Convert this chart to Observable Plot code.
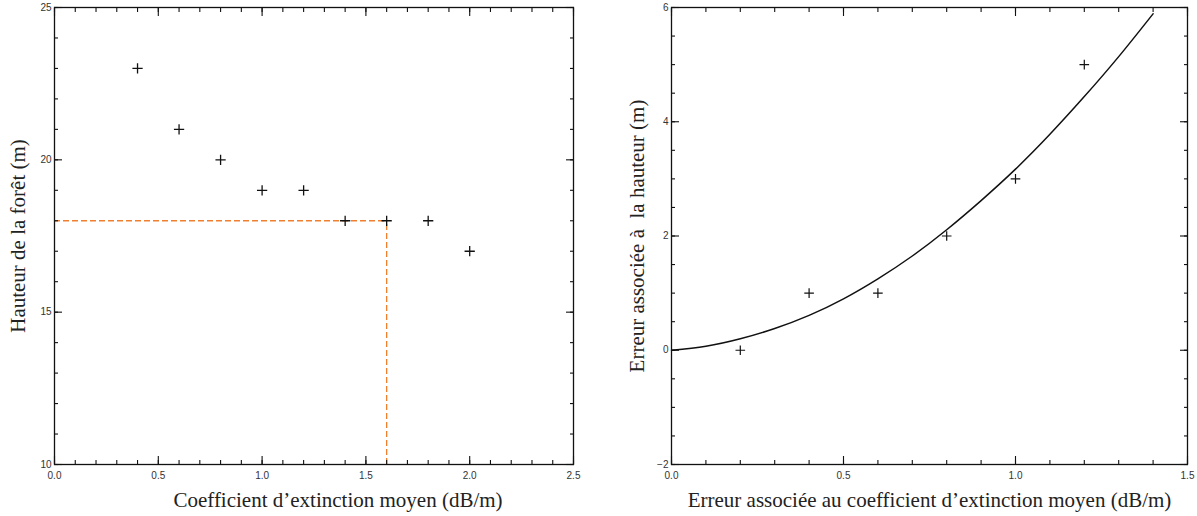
<!DOCTYPE html>
<html>
<head>
<meta charset="utf-8">
<script src="https://cdn.jsdelivr.net/npm/d3@7"></script>
<script src="https://cdn.jsdelivr.net/npm/@observablehq/plot@0.6"></script>
<style>
  html, body { margin: 0; padding: 0; background: #fff; }
  #wrap { display: flex; flex-direction: row; width: 1197px; height: 516px; }
</style>
</head>
<body>
<div id="wrap"></div>
<script>
// ---------- Left panel data ----------
const extinction = [0.4, 0.6, 0.8, 1.0, 1.2, 1.4, 1.6, 1.8, 2.0];
const forestHeight = [23, 21, 20, 19, 19, 18, 18, 18, 17];
const guideX = [1.6];
const guideY = [18];
const leftXMajor = [0, 0.5, 1.0, 1.5, 2.0, 2.5];
const leftXMinor = d3.range(0, 26).map(i => i / 10);
const leftYMajor = [10, 15, 20, 25];
const leftYMinor = d3.range(10, 26);
const leftXLabel = "Coefficient d\u2019extinction moyen (dB/m)";
const leftYLabel = "Hauteur de la for\u00eat (m)";

// ---------- Right panel data ----------
const errExt = [0.2, 0.4, 0.6, 0.8, 1.0, 1.2];
const errHeight = [0, 1, 1, 2, 3, 5];
const fitX = [0, 0.1, 0.2, 0.3, 0.4, 0.5, 0.6, 0.7, 0.8, 0.9, 1.0, 1.1, 1.2, 1.3, 1.4];
const fitY = [0, 0.07, 0.2, 0.38, 0.61, 0.9, 1.25, 1.65, 2.11, 2.62, 3.17, 3.78, 4.44, 5.14, 5.89];
const rightXMajor = [0, 0.5, 1.0, 1.5];
const rightXMinor = d3.range(0, 16).map(i => i / 10);
const rightYMajor = [-2, 0, 2, 4, 6];
const rightYMinor = d3.range(-4, 13).map(i => i / 2);
const rightXLabel = "Erreur associ\u00e9e au coefficient d\u2019extinction moyen (dB/m)";
const rightYLabel = "Erreur associ\u00e9e \u00e0  la hauteur (m)";

const INK = "#111";
const TICKFONT = "Liberation Sans, Arial, sans-serif";
const LABELFONT = "Liberation Serif, Times New Roman, serif";

function boxAxes(xMinor, xMajor, yMinor, yMajor, xFmt, yFmt) {
  const none = () => "";
  const tickStyle = {stroke: INK, strokeWidth: 1.1, label: null, tickFormat: none};
  return [
    Plot.axisX(xMinor, {...tickStyle, anchor: "bottom", tickSize: -4}),
    Plot.axisX(xMinor, {...tickStyle, anchor: "top", tickSize: -4}),
    Plot.axisY(yMinor, {...tickStyle, anchor: "left", tickSize: -4}),
    Plot.axisY(yMinor, {...tickStyle, anchor: "right", tickSize: -4}),
    Plot.axisX(xMajor, {...tickStyle, anchor: "bottom", tickSize: -8}),
    Plot.axisX(xMajor, {...tickStyle, anchor: "top", tickSize: -8}),
    Plot.axisY(yMajor, {...tickStyle, anchor: "left", tickSize: -8}),
    Plot.axisY(yMajor, {...tickStyle, anchor: "right", tickSize: -8}),
    Plot.axisX(xMajor, {anchor: "bottom", tickSize: 0, tickPadding: 7, label: null,
      tickFormat: xFmt, fill: "#333", fontSize: 10, fontFamily: TICKFONT}),
    Plot.axisY(yMajor, {anchor: "left", tickSize: 0, tickPadding: 3, label: null,
      tickFormat: yFmt, fill: "#333", fontSize: 10, fontFamily: TICKFONT})
  ];
}

function axisTitles(xLabel, yLabel, xdx, ydx) {
  return [
    Plot.text([xLabel], {text: d => d, frameAnchor: "bottom", dy: 36, dx: xdx,
      textAnchor: "middle", fontFamily: LABELFONT, fontSize: 21, fill: "#222", lineAnchor: "middle"}),
    Plot.text([yLabel], {text: d => d, frameAnchor: "left", dx: ydx, rotate: -90,
      textAnchor: "middle", fontFamily: LABELFONT, fontSize: 21, fill: "#222", lineAnchor: "middle"})
  ];
}

const fmt1 = d3.format(".1f");
const fmt0 = d => (d < 0 ? "\u2212" : "") + Math.abs(d);

const left = Plot.plot({
  width: 600, height: 516,
  marginLeft: 54, marginRight: 27, marginTop: 7, marginBottom: 52,
  style: {background: "#fff", overflow: "visible"},
  x: {domain: [0, 2.5], axis: null},
  y: {domain: [10, 25], axis: null},
  marks: [
    Plot.ruleY(guideY, {x1: 0, x2: guideX[0], stroke: "#f08030", strokeWidth: 1.3, strokeDasharray: "6,3"}),
    Plot.ruleX(guideX, {y1: 10, y2: guideY[0], stroke: "#f08030", strokeWidth: 1.3, strokeDasharray: "6,3"}),
    Plot.dot(extinction.map((x, i) => ({x, y: forestHeight[i]})),
      {x: "x", y: "y", symbol: "plus", r: 3.4, stroke: INK, strokeWidth: 1.3}),
    ...boxAxes(leftXMinor, leftXMajor, leftYMinor, leftYMajor, fmt1, d => String(d)),
    Plot.frame({stroke: INK, strokeWidth: 1.3}),
    ...axisTitles(leftXLabel, leftYLabel, 24, -36)
  ]
});

const right = Plot.plot({
  width: 597, height: 516,
  marginLeft: 71, marginRight: 10, marginTop: 7, marginBottom: 52,
  style: {background: "#fff", overflow: "visible"},
  x: {domain: [0, 1.5], axis: null},
  y: {domain: [-2, 6], axis: null},
  marks: [
    Plot.line(fitX.map((x, i) => ({x, y: fitY[i]})),
      {x: "x", y: "y", stroke: INK, strokeWidth: 1.5, curve: "natural"}),
    Plot.dot(errExt.map((x, i) => ({x, y: errHeight[i]})),
      {x: "x", y: "y", symbol: "plus", r: 3.2, stroke: INK, strokeWidth: 1.2}),
    ...boxAxes(rightXMinor, rightXMajor, rightYMinor, rightYMajor, fmt1, fmt0),
    Plot.frame({stroke: INK, strokeWidth: 1.3}),
    ...axisTitles(rightXLabel, rightYLabel, 0, -34)
  ]
});

document.getElementById("wrap").append(left, right);
</script>
</body>
</html>
